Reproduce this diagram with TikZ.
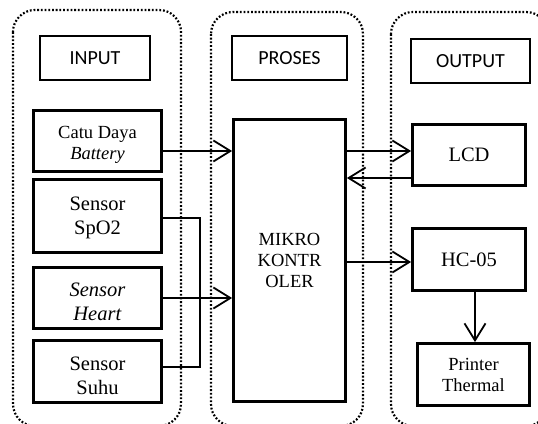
\documentclass[tikz,border=0pt]{standalone}
\usepackage{fontspec}
\setmainfont{Liberation Serif}
\newfontfamily\calfont{Carlito}
\usetikzlibrary{arrows.meta}
\begin{document}
\begin{tikzpicture}[x=1pt,y=-1pt,
  container/.style={draw, line width=2.2pt, dash pattern=on 1.8pt off 1.9pt, rounded corners=22pt},
  titlebox/.style={draw, line width=1.1pt, inner sep=0pt, font=\calfont\fontsize{20}{24}\selectfont},
  blk/.style={draw, line width=2.8pt, inner sep=0pt},
  big/.style={font=\fontsize{20.5}{24}\selectfont, align=center, inner sep=0pt},
  small/.style={font=\fontsize{18.5}{21}\selectfont, align=center, inner sep=0pt},
  conn/.style={line width=1.8pt},
  arr/.style={conn, -{Straight Barb[length=17pt,width=21pt]}}
]
\useasboundingbox (0,0) rectangle (538,423);
\clip (0,0) rectangle (538,423);

% containers
\draw[container] (13,10) rectangle (181,426);
\draw[container] (211,12) rectangle (363,426);
\draw[container] (391,12) rectangle (548,426);

% titles
\node[titlebox, minimum width=110pt, minimum height=44pt] (tin) at (95,58) {INPUT};
\node[titlebox, minimum width=115pt, minimum height=44pt] (tpr) at (289.5,58) {PROSES};
\node[titlebox, minimum width=119pt, minimum height=44pt] (tout) at (470.5,61) {OUTPUT};

% input blocks
\node[blk, minimum width=128pt, minimum height=61pt] (catu) at (97.5,141) {};
\node[blk, minimum width=128pt, minimum height=73pt] (spo2) at (97.5,216) {};
\node[blk, minimum width=128pt, minimum height=61pt] (heart) at (97.5,298) {};
\node[blk, minimum width=128pt, minimum height=62pt] (suhu) at (97.5,371.5) {};

\node[small] (catuT) at ([yshift=-4pt]catu.center) {Catu Daya\\\textit{Battery}};
\node[big] (spoT) at ([yshift=-2pt]spo2.center) {Sensor\\SpO2};
\begin{scope}
  \clip (34,268) rectangle (161,320);
  \node[big] (heartT) at ([yshift=-4pt]heart.center) {\textit{Sensor}\\\textit{Heart}};
\end{scope}
\begin{scope}
  \clip (34,341) rectangle (161,395);
  \node[big] (suhuT) at ([yshift=-4pt]suhu.center) {Sensor\\Suhu};
\end{scope}

% process
\node[blk, small, minimum width=112pt, minimum height=282pt] (mk) at (289.5,260.5) {MIKRO\\KONTR\\OLER};

% output
\node[blk, big, minimum width=113pt, minimum height=61pt] (lcd) at (469,155) {LCD};
\node[blk, big, minimum width=113pt, minimum height=62pt] (hc) at (469,259.5) {HC-05};
\node[blk, small, minimum width=112pt, minimum height=62pt] (pr) at (473.5,374.5) {Printer\\Thermal};

% connectors
\draw[arr] ([yshift=-10pt]catu.east) -- ([yshift=-10pt]catu.east -| mk.west);
\coordinate (bus) at (200,0);
\coordinate (spoE) at ([yshift=-2pt]spo2.east);
\coordinate (suhuE) at ([yshift=4.5pt]suhu.east);
\draw[conn] (spoE) -| (bus |- suhuE) -- (suhuE);
\draw[arr] (heart.east) -- (heart.east -| mk.west);
\draw[arr] ([yshift=4pt]lcd.west -| mk.east) -- ([yshift=4pt]lcd.west);
\draw[arr] ([yshift=-23pt]lcd.west) -- ([yshift=-23pt]lcd.west -| mk.east);
\draw[arr] ([yshift=-2.5pt]hc.west -| mk.east) -- ([yshift=-2.5pt]hc.west);
\draw[arr] ([xshift=6pt]hc.south) -- ([xshift=6pt]hc.south |- pr.north);
\end{tikzpicture}
\end{document}
